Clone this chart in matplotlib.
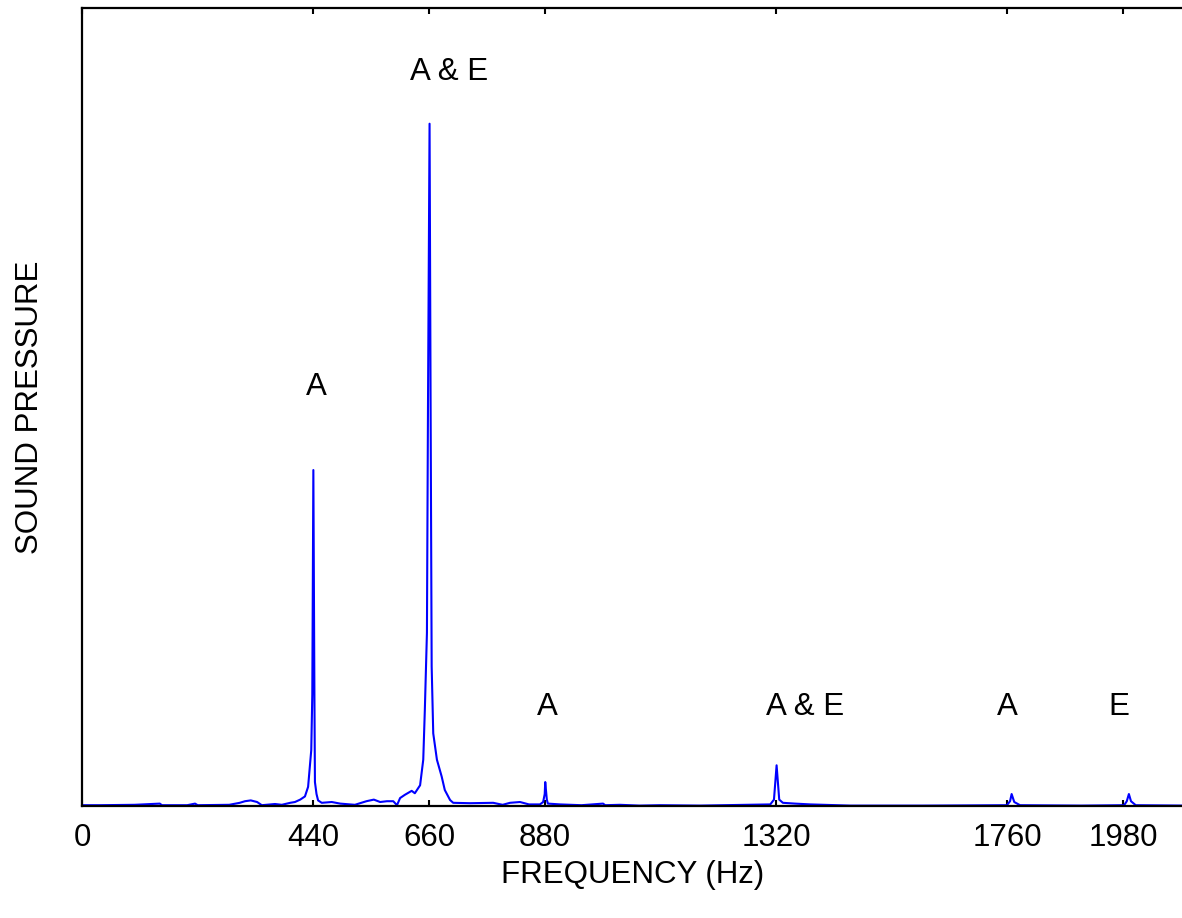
import matplotlib
matplotlib.use("Agg")
import matplotlib.pyplot as plt

plt.rcParams['font.family'] = ['Liberation Sans', 'DejaVu Sans']

# Spectrum: frequency (Hz) and sound pressure (% of axis height)
freq = [0, 34, 100, 148, 152, 200, 215, 220, 280, 300, 310, 321, 333, 342, 367, 380,
        396, 405, 415, 424, 430, 436, 438, 440, 442, 443, 446, 449, 456, 475, 491, 519,
        541, 555, 567, 580, 592, 599, 605, 614, 627, 633, 643, 649, 652, 656, 658, 661,
        663, 665, 668, 675, 684, 690, 700, 706, 738, 782, 800, 814, 833, 850, 871, 877,
        880, 881, 884, 886, 909, 950, 991, 995, 1023, 1060, 1099, 1175, 1309, 1316, 1321, 1326,
        1333, 1356, 1385, 1461, 1600, 1759, 1765, 1768, 1773, 1784, 1900, 1982, 1987,
        1991, 1995, 2004, 2100]
pressure = [0.1, 0.1, 0.15, 0.3, 0.1, 0.1, 0.3, 0.1, 0.15, 0.4, 0.6, 0.7, 0.5, 0.1, 0.25, 0.15,
            0.4, 0.5, 0.8, 1.2, 2.4, 7.0, 14.0, 42.1, 14.0, 3.0, 1.5, 0.7, 0.4, 0.5, 0.3, 0.15,
            0.6, 0.8, 0.5, 0.6, 0.6, 0.1, 1.0, 1.4, 1.9, 1.6, 2.6, 5.8, 12.0, 21.7, 50.0, 85.5,
            50.0, 17.5, 9.1, 5.8, 3.7, 2.0, 0.75, 0.4, 0.35, 0.4, 0.15, 0.4, 0.5, 0.2, 0.2, 0.5,
            1.5, 3.0, 0.8, 0.3, 0.2, 0.1, 0.3, 0.1, 0.15, 0.05, 0.1, 0.05, 0.2, 0.8, 5.1, 0.8,
            0.4, 0.3, 0.2, 0.05, 0.05, 0.1, 0.6, 1.5, 0.5, 0.1, 0.05, 0.1, 0.6,
            1.5, 0.6, 0.1, 0.05]

tick_values = [0, 440, 660, 880, 1320, 1760, 1980]
tick_labels = ['0', '440', '660', '880', '1320', '1760', '1980']

ann_text = ['A & E', 'A', 'A', 'A & E', 'A', 'E']
ann_x = [698, 445, 886, 1375, 1759, 1972]
ann_y = [92.0, 52.5, 12.4, 12.4, 12.4, 12.4]

W, H = 1182, 918
fig = plt.figure(figsize=(W / 100, H / 100), dpi=100)
left, right, top, bottom = 82, 1186.2, 8, 806
ax = fig.add_axes([left / W, (H - bottom) / H, (right - left) / W, (bottom - top) / H])

ax.plot(freq, pressure, color='#0000FF', linewidth=1.5, zorder=2)
ax.set_xlim(0, 2100)
ax.set_ylim(0, 100)

for s in ['left', 'top', 'bottom', 'right']:
    ax.spines[s].set_linewidth(1.6)
    ax.spines[s].set_color('black')
    ax.spines[s].set_zorder(3)

ax.set_xticks(tick_values)
ax.set_xticklabels(tick_labels)
ax.set_yticks([])
ax.tick_params(axis='x', direction='in', top=True, bottom=True, length=4, width=1.5,
               labelsize=22.5, pad=12)

for t, x, y in zip(ann_text, ann_x, ann_y):
    ax.text(x, y, t, fontsize=22.5, ha='center', va='center')

ax.set_xlabel('FREQUENCY (Hz)', fontsize=22.5)
ax.xaxis.set_label_coords(0.499, -0.086)
ax.xaxis.label.set_va('center')
ax.set_ylabel('SOUND PRESSURE', fontsize=22.5)
ax.yaxis.set_label_coords(-0.047, 0.499)
ax.yaxis.label.set_va('center')

fig.savefig('out.png', dpi=100)
